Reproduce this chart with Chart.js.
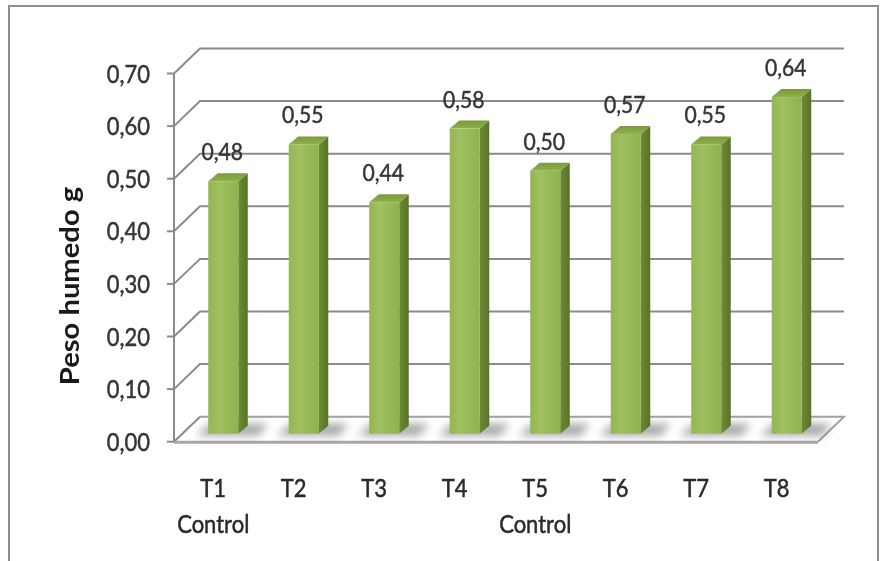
<!DOCTYPE html>
<html>
<head>
<meta charset="utf-8">
<script src="https://cdn.jsdelivr.net/npm/chart.js@4/dist/chart.umd.min.js"></script>
<style>
  html, body { margin: 0; padding: 0; background: #ffffff; }
  #wrap { width: 881px; height: 561px; position: relative; }
</style>
</head>
<body>
<div id="wrap"><canvas id="chart" width="881" height="561"></canvas></div>
<script>
// Treatments and their fresh weight (g)
const categories = ['T1', 'T2', 'T3', 'T4', 'T5', 'T6', 'T7', 'T8'];
const subLabels = ['Control', '', '', '', 'Control', '', '', ''];
const pesoHumedo = [0.48, 0.55, 0.44, 0.58, 0.50, 0.57, 0.55, 0.64];
const yAxisTitle = 'Peso humedo g';
const yMin = 0;
const yMax = 0.7;
const yStep = 0.1;

// 3D look: depth of the floor/back wall and of each prism
const DEPTH = { x: 26, y: -25 };
const BAR_SHIFT = { x: 9, y: -8 };
const BAR_DEPTH = { x: 9.5, y: -8 };
const TEXT_SQUEEZE = 0.88;
const FONT = 'Lato, "Open Sans", sans-serif';

function squeezedText(ctx, text, x, y, align, font, color) {
  ctx.save();
  ctx.translate(x, y);
  ctx.scale(TEXT_SQUEEZE, 1);
  ctx.font = font;
  ctx.fillStyle = color;
  ctx.strokeStyle = color;
  ctx.lineWidth = 0.5;
  ctx.textAlign = align;
  ctx.textBaseline = 'alphabetic';
  ctx.fillText(text, 0, 0);
  ctx.strokeText(text, 0, 0);
  ctx.restore();
}

function fmt(v) {
  return v.toFixed(2).replace('.', ',');
}

const box3d = {
  id: 'box3d',
  beforeDatasetsDraw(chart) {
    const ctx = chart.ctx;
    const area = chart.chartArea;
    const ys = chart.scales.y;
    const left = area.left, right = area.right;
    const y0 = ys.getPixelForValue(0);

    // outer frame
    ctx.save();
    ctx.strokeStyle = '#8e8e8e';
    ctx.lineWidth = 2;
    ctx.strokeRect(9, 6, 869, 570);
    ctx.restore();

    // back wall gridlines + diagonals to the front axis
    ctx.save();
    ctx.strokeStyle = '#8a8a8a';
    ctx.lineWidth = 2;
    ys.ticks.forEach(t => {
      const y = ys.getPixelForValue(t.value);
      ctx.beginPath();
      ctx.moveTo(left, y);
      ctx.lineTo(left + DEPTH.x, y + DEPTH.y);
      if (t.value > 0) ctx.lineTo(right + DEPTH.x, y + DEPTH.y);
      ctx.stroke();
      // tick mark
      ctx.beginPath();
      ctx.moveTo(left - 7, y);
      ctx.lineTo(left, y);
      ctx.stroke();
    });
    ctx.restore();

    // floor
    ctx.save();
    ctx.strokeStyle = '#a3a3a3';
    ctx.lineWidth = 2;
    ctx.beginPath();
    ctx.moveTo(left + DEPTH.x, y0 + DEPTH.y);
    ctx.lineTo(right + DEPTH.x, y0 + DEPTH.y);
    ctx.lineTo(right, y0);
    ctx.stroke();
    ctx.lineWidth = 3;
    ctx.strokeStyle = '#a8a8a8';
    ctx.beginPath();
    ctx.moveTo(left, y0 + 0.5);
    ctx.lineTo(right, y0 + 0.5);
    ctx.stroke();
    ctx.restore();

    // front value axis
    ctx.save();
    ctx.strokeStyle = '#8a8a8a';
    ctx.lineWidth = 2;
    ctx.beginPath();
    ctx.moveTo(left, ys.getPixelForValue(yMax));
    ctx.lineTo(left, y0);
    ctx.stroke();
    ctx.restore();

    // tick labels
    ys.ticks.forEach(t => {
      const y = ys.getPixelForValue(t.value);
      squeezedText(ctx, fmt(t.value), left - 24, y + 9, 'right', '25px ' + FONT, '#353535');
    });

    // category labels
    const xs = chart.scales.x;
    categories.forEach((c, i) => {
      const x = xs.getPixelForValue(i) - 1;
      squeezedText(ctx, c, x, 497, 'center', '25px ' + FONT, '#2a2a2a');
      if (subLabels[i]) squeezedText(ctx, subLabels[i], x, 533, 'center', '25px ' + FONT, '#2a2a2a');
    });

    // axis title (stretched along its length like the other texts)
    ctx.save();
    ctx.translate(79, 286);
    ctx.rotate(-Math.PI / 2);
    ctx.scale(1.08, 1);
    ctx.font = 'bold 27px ' + FONT;
    ctx.fillStyle = '#1a1a1a';
    ctx.textAlign = 'center';
    ctx.textBaseline = 'alphabetic';
    ctx.fillText(yAxisTitle, 0, 0);
    ctx.restore();
  },
  afterDatasetsDraw(chart) {
    const ctx = chart.ctx;
    const meta = chart.getDatasetMeta(0);
    const ds = chart.data.datasets[0].data;

    // soft floor shadows
    meta.data.forEach(bar => {
      const w = bar.width;
      const x1 = bar.x - w / 2 + BAR_SHIFT.x;
      const yb = bar.base + BAR_SHIFT.y;
      ctx.save();
      ctx.filter = 'blur(4px)';
      ctx.fillStyle = 'rgba(80,80,80,0.5)';
      ctx.beginPath();
      ctx.moveTo(x1 - 12, yb + 2);
      ctx.lineTo(x1 + w + 20, yb + 2);
      ctx.lineTo(x1 + w + 30, yb - 10);
      ctx.lineTo(x1 + 2, yb - 10);
      ctx.closePath();
      ctx.fill();
      ctx.restore();
    });

    meta.data.forEach((bar, i) => {
      const w = bar.width;
      const x1 = bar.x - w / 2 + BAR_SHIFT.x;
      const x2 = x1 + w;
      const yt = bar.y + BAR_SHIFT.y;
      const yb = bar.base + BAR_SHIFT.y;
      const dx = BAR_DEPTH.x, dy = BAR_DEPTH.y;

      // side face
      const gs = ctx.createLinearGradient(x2, 0, x2 + dx, 0);
      gs.addColorStop(0, '#6c8a36');
      gs.addColorStop(1, '#587427');
      ctx.fillStyle = gs;
      ctx.beginPath();
      ctx.moveTo(x2, yb);
      ctx.lineTo(x2, yt);
      ctx.lineTo(x2 + dx, yt + dy);
      ctx.lineTo(x2 + dx, yb + dy);
      ctx.closePath();
      ctx.fill();

      // top face
      const gt = ctx.createLinearGradient(0, yt + dy, 0, yt);
      gt.addColorStop(0, '#7a993c');
      gt.addColorStop(1, '#90b04d');
      ctx.fillStyle = gt;
      ctx.beginPath();
      ctx.moveTo(x1, yt);
      ctx.lineTo(x1 + dx, yt + dy);
      ctx.lineTo(x2 + dx, yt + dy);
      ctx.lineTo(x2, yt);
      ctx.closePath();
      ctx.fill();

      // front face
      const gf = ctx.createLinearGradient(x1, 0, x2, 0);
      gf.addColorStop(0, '#94b552');
      gf.addColorStop(0.35, '#a0c061');
      gf.addColorStop(1, '#91b250');
      ctx.fillStyle = gf;
      ctx.fillRect(x1, yt, w, yb - yt);

      // value label
      squeezedText(ctx, fmt(ds[i]), (x1 + x2) / 2 - 1, yt - 21, 'center', '24px ' + FONT, '#353535');
    });
  }
};

new Chart(document.getElementById('chart'), {
  type: 'bar',
  data: {
    labels: categories,
    datasets: [{
      label: yAxisTitle,
      data: pesoHumedo,
      backgroundColor: 'rgba(0,0,0,0)',
      borderWidth: 0,
      categoryPercentage: 0.8,
      barPercentage: 0.466
    }]
  },
  options: {
    responsive: false,
    animation: false,
    events: [],
    layout: { padding: { left: 174, right: 63, top: 73.5, bottom: 119.3 } },
    plugins: { legend: { display: false }, tooltip: { enabled: false } },
    scales: {
      x: { display: false },
      y: { display: false, min: yMin, max: yMax, ticks: { stepSize: yStep } }
    }
  },
  plugins: [box3d]
});
</script>
</body>
</html>
